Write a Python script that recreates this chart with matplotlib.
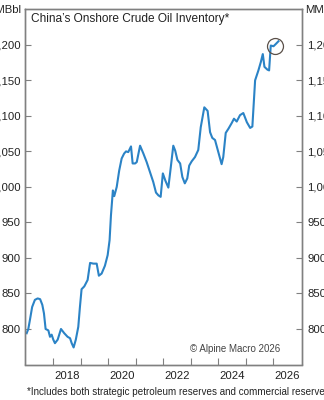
import matplotlib.pyplot as plt
from matplotlib.ticker import FuncFormatter, FixedLocator

plt.rcParams['font.family'] = ['Liberation Sans', 'DejaVu Sans']

# Data (decimal year, MMBbl)
dates = [2017.03, 2017.09, 2017.15, 2017.23, 2017.33, 2017.43, 2017.52, 2017.60, 2017.66, 2017.72,
         2017.82, 2017.88, 2017.94, 2018.00, 2018.06, 2018.16, 2018.28, 2018.40, 2018.52, 2018.61,
         2018.67, 2018.74, 2018.82, 2018.91, 2018.97, 2019.03, 2019.13, 2019.25, 2019.34, 2019.46,
         2019.58, 2019.66, 2019.76, 2019.88, 2019.98, 2020.05, 2020.10, 2020.17, 2020.22, 2020.31,
         2020.40, 2020.49, 2020.58, 2020.65, 2020.73, 2020.83, 2020.89, 2020.98, 2021.04, 2021.16,
         2021.28, 2021.40, 2021.52, 2021.64, 2021.74, 2021.83, 2021.91, 2021.99, 2022.08, 2022.19,
         2022.28, 2022.37, 2022.44, 2022.52, 2022.62, 2022.70, 2022.79, 2022.88, 2022.95, 2023.04,
         2023.16, 2023.28, 2023.37, 2023.50, 2023.62, 2023.71, 2023.79, 2023.89, 2024.01, 2024.13,
         2024.19, 2024.28, 2024.38, 2024.50, 2024.58, 2024.68, 2024.80, 2024.92, 2025.05, 2025.17,
         2025.25, 2025.35, 2025.47, 2025.56, 2025.63, 2025.69, 2025.80, 2025.86, 2025.92, 2026.02,
         2026.10, 2026.20]
inventory = [794, 800, 813, 831, 841, 843, 842, 834, 822, 800,
             798, 789, 792, 785, 780, 785, 800, 794, 789, 787,
             780, 774, 785, 803, 831, 856, 860, 869, 893, 892,
             892, 875, 878, 889, 904, 925, 960, 995, 987, 1000,
             1023, 1040, 1047, 1050, 1049, 1057, 1033, 1033, 1035, 1058,
             1047, 1035, 1021, 1007, 992, 988, 986, 1019, 1009, 999,
             1028, 1058, 1051, 1038, 1033, 1014, 1005, 1012, 1030, 1036,
             1042, 1052, 1084, 1112, 1107, 1077, 1069, 1066, 1049, 1032,
             1042, 1076, 1082, 1090, 1096, 1092, 1101, 1104, 1091, 1083,
             1085, 1150, 1164, 1176, 1187, 1169, 1165, 1164, 1199, 1198,
             1201, 1205]
highlight_date = 2026.06
highlight_value = 1199

year_ticks = list(range(2018, 2027))
year_labels = [2018, 2020, 2022, 2024, 2026]
y_ticks = [800, 850, 900, 950, 1000, 1050, 1100, 1150, 1200]

fig = plt.figure(figsize=(3.24, 4.0), dpi=100)
ax = fig.add_axes([0.0772, 0.08875, 0.8534, 0.888])

ax.plot(dates, inventory, color='#2b83c6', linewidth=1.5, solid_joinstyle='round')
ax.plot([highlight_date], [highlight_value], marker='o', markersize=11.5,
        markerfacecolor='none', markeredgecolor='#5a5049', markeredgewidth=0.9)

ax.set_xlim(2016.97, 2027.04)
ax.set_ylim(750, 1250)

# year ticks on Jan 1, labels centred on mid-year
ax.xaxis.set_major_locator(FixedLocator(year_ticks))
ax.xaxis.set_major_formatter(FuncFormatter(lambda v, p: ''))
ax.xaxis.set_minor_locator(FixedLocator([y + 0.5 for y in year_labels]))
ax.xaxis.set_minor_formatter(FuncFormatter(lambda v, p: str(int(v))))
ax.tick_params(axis='x', which='major', direction='in', length=5, width=0.8, color='#808080')
ax.tick_params(axis='x', which='minor', length=0, pad=4.5, labelsize=8.2, labelcolor='#222222')

comma = FuncFormatter(lambda v, p: f'{int(v):,}')
ax.set_yticks(y_ticks)
ax.yaxis.set_major_formatter(comma)
ax.tick_params(axis='y', direction='in', length=4, width=0.8, color='#808080',
               pad=3.2, labelsize=8.2, labelcolor='#222222')

ax2 = ax.twinx()
ax2.set_ylim(ax.get_ylim())
ax2.set_yticks(y_ticks)
ax2.yaxis.set_major_formatter(comma)
ax2.tick_params(axis='y', direction='in', length=4, width=0.8, color='#808080',
                pad=4, labelsize=8.2, labelcolor='#222222')

for a in (ax, ax2):
    for s in a.spines.values():
        s.set_color('#808080')
        s.set_linewidth(1.0)

ax.text(0.0206, 0.972, "China\u2019s Onshore Crude Oil Inventory*", transform=ax.transAxes,
        ha='left', va='center', fontsize=8.6, color='#222222')

fig.text(20.7 / 324, 1 - 10 / 400, 'MMBbl', ha='right', va='center', fontsize=8.2, color='#222222')
fig.text(305 / 324, 1 - 10 / 400, 'MMBbl', ha='left', va='center', fontsize=8.2, color='#222222')

fig.text(280 / 324, 1 - 349.3 / 400, '\u00a9 Alpine Macro 2026', ha='right', va='center',
         fontsize=7, color='#444444')
fig.text(26.7 / 324, 1 - 391.7 / 400,
         '*Includes both strategic petroleum reserves and commercial reserves',
         ha='left', va='center', fontsize=7.1, color='#222222')

fig.savefig('out.png', dpi=100)
